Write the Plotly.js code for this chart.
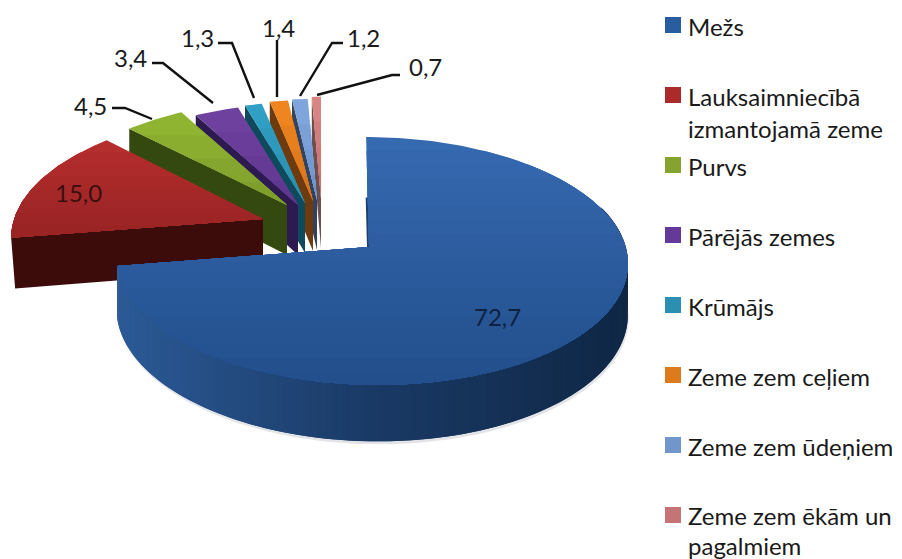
<!DOCTYPE html>
<html><head><meta charset="utf-8">
<script src="https://cdn.plot.ly/plotly-3.0.1.min.js"></script>
<style>html,body{margin:0;padding:0;background:#fff}#c{width:902px;height:559px}</style>
</head><body><div id="c"></div>
<script>
// ---- data ----
const categories = ['Mežs','Lauksaimniecībā izmantojamā zeme','Purvs','Pārējās zemes','Krūmājs','Zeme zem ceļiem','Zeme zem ūdeņiem','Zeme zem ēkām un pagalmiem'];
const values = [72.7,15.0,4.5,3.4,1.3,1.4,1.2,0.7];
const valueLabels = ['72,7','15,0','4,5','3,4','1,3','1,4','1,2','0,7'];
const legendLines = [['Mežs'],['Lauksaimniecībā','izmantojamā zeme'],['Purvs'],['Pārējās zemes'],['Krūmājs'],['Zeme zem ceļiem'],['Zeme zem ūdeņiem'],['Zeme zem ēkām un','pagalmiem']];
// ---- styling ----
const topFrom = ['#3569b0','#b42e2d','#8fb432','#6f419f','#2f9fc4','#ee851f','#7fa6dc','#d98484'];
const topTo   = ['#234f8c','#9a2324','#7f9f2c','#5f3690','#2a8fb0','#d9741a','#6f95cc','#c87272'];
const wallCol = ['#1a3a66','#3c0c0a','#34490f','#2c1a50','#0e4a5c','#6e3a0e','#33425f','#6d4f4f'];
const legendCol = ['#2a5da0','#ab2a2a','#84a42f','#64399a','#2a8fb0','#dd7a1c','#7096cc','#c47474'];
const apexX = [369,263,287,298,305,313,317,321];
const apexY = [247,219,205,205,203,201,200,198];
const radiusK = [1,0.98,0.95,0.92,0.92,0.92,0.92,0.92];
const rimShear = [-6,10,0,0,0,0,0,0];
const rimShift = [2.5,0,0,0,0,0,0,0];
const labelX = [497,78,90,130,197,278,363,425];
const labelY = [316,192,105,57,37,27,37,66];
const labelCol = ['#0f2040','#3a0f0f','#1a1a1a','#1a1a1a','#1a1a1a','#1a1a1a','#1a1a1a','#1a1a1a'];
const leaderX = [[112,125,152],[152,163,213],[218,232,254],[277,277,277],[343,332,300],[400,392,317]];
const leaderY = [[108,108,119],[63,63,103],[43,43,98],[40,40,97],[43,43,96],[75,75,95]];
const FONT = 'Lato, "Open Sans", sans-serif';
// ---- projection of the tilted disc ----
const A=254,B=122.4,P=0.113,H=50;
const total = values.reduce((s,v)=>s+v,0);
function rim(deg,k,sh){const t=deg*Math.PI/180,u=Math.sin(t),v=Math.cos(t),s=1/(1+P*v);
  return [(A*u+sh*v)*s*k,-B*v*s*k,s];}
function hex(c){return [1,3,5].map(i=>parseInt(c.substr(i,2),16));}
function mix(a,b,t){const x=hex(a),y=hex(b);return 'rgb('+x.map((q,i)=>Math.round(q+(y[i]-q)*t)).join(',')+')';}
function clipBelow(poly,yMin){ // keeps the part of poly with y>=yMin
  const out=[];
  for(let i=0;i<poly.length;i++){const p=poly[i],q=poly[(i+1)%poly.length];
    const pi=p[1]>=yMin,qi=q[1]>=yMin;
    if(pi)out.push(p);
    if(pi!==qi){const t=(yMin-p[1])/(q[1]-p[1]);out.push([p[0]+(q[0]-p[0])*t,yMin]);}
  }
  return out;}
const traces=[];
function poly(pts,color){ if(pts.length<3)return;
  traces.push({type:'scatter',mode:'lines',x:pts.map(p=>p[0]).concat(pts[0][0]),y:pts.map(p=>p[1]).concat(pts[0][1]),
    fill:'toself',fillcolor:color,line:{width:0,color:color},hoverinfo:'skip',showlegend:false});}
// slice angular extents from the values
const starts=[];let acc=0;values.forEach(v=>{starts.push(acc);acc+=v/total*360;});
function drawSlice(i){
  const th0=starts[i],th1=th0+values[i]/total*360,ax=apexX[i],ay=apexY[i],k=radiusK[i];
  const rimPts=[];const n=Math.max(4,Math.ceil(th1-th0));
  for(let j=0;j<=n;j++){const d=th0+(th1-th0)*j/n,r=rim(d,k,rimShear[i]);rimPts.push([ax+rimShift[i]+r[0],ay+r[1],r[2],d]);}
  const first=rimPts[0];
  if(i===0){
    // dark sliver along the first cut
    const mx=first[0]+(ax-first[0])*0.55,my=first[1]+(ay-first[1])*0.55;
    poly([[mx+1,my],[ax+1,ay],[ax-2,ay],[mx-2,my]],'#1c3f70');
    // soft edge under the curved wall
    const front=rimPts.filter(p=>p[3]>=75);
    poly(front.map(p=>[p[0]+1,p[1]+H*p[2]+3]).concat(front.slice().reverse().map(p=>[p[0],p[1]])),'#e2e4e8');
    // curved wall in shaded strips
    for(let j=0;j<n;j++){const a=rimPts[j];
      if(a[3]<70)continue;
      const t=(a[0]-110)/520,c=t<0.5?mix('#2c5b98','#1a3a66',t*2):mix('#1a3a66','#0f2745',(t-0.5)*2);
      const seg=rimPts.slice(j,Math.min(j+3,n+1));
      poly(seg.map(p=>[p[0],p[1]-1]).concat(seg.slice().reverse().map(p=>[p[0],p[1]+H*p[2]])),c);
    }
  } else {
    // straight cut wall on the first edge, visible on every exploded slice
    poly([[ax,ay],[first[0],first[1]],[first[0]+(i===1?4:0),first[1]+H*first[2]],[ax,ay+H]],wallCol[i]);
  }
  const face=[[ax,ay]].concat(rimPts.map(p=>[p[0],p[1]]));
  const ys=face.map(p=>p[1]),y0=Math.min(...ys),y1=Math.max(...ys);
  const bands=i===0?18:(i===1?8:4);
  for(let b=0;b<bands;b++){
    const c=mix(topFrom[i],topTo[i],b/(bands-1));
    poly(b===0?face:clipBelow(face,y0+(y1-y0)*b/bands),c);
  }
}
for(let i=values.length-1;i>=0;i--)drawSlice(i);
// leaders
leaderX.forEach((xs,i)=>traces.push({type:'scatter',mode:'lines',x:xs,y:leaderY[i],line:{color:'#111',width:2.4},hoverinfo:'skip',showlegend:false}));
// legend swatches
categories.forEach((c,i)=>traces.push({type:'scatter',mode:'markers',name:c,x:[673],y:[25+70*i],
  marker:{symbol:'square',size:16,color:legendCol[i]},hoverinfo:'name',showlegend:false}));
const ann=[];
valueLabels.forEach((t,i)=>ann.push({x:labelX[i],y:labelY[i],xref:'x',yref:'y',text:t,showarrow:false,xanchor:'center',yanchor:'middle',font:{family:FONT,size:24,color:labelCol[i]}}));
legendLines.forEach((ls,i)=>ls.forEach((t,j)=>ann.push({x:686,y:26+70*i-(i===7?1:0)+(i===7?30:32)*j,xref:'x',yref:'y',text:t,showarrow:false,xanchor:'left',yanchor:'middle',font:{family:FONT,size:24,color:'#1a1a1a'}})));
Plotly.newPlot('c',traces,{width:902,height:559,margin:{l:0,r:0,t:0,b:0},paper_bgcolor:'#fff',plot_bgcolor:'#fff',showlegend:false,
  xaxis:{range:[0,902],visible:false,fixedrange:true},yaxis:{range:[559,0],visible:false,fixedrange:true},annotations:ann},{staticPlot:true,displayModeBar:false});
</script></body></html>
